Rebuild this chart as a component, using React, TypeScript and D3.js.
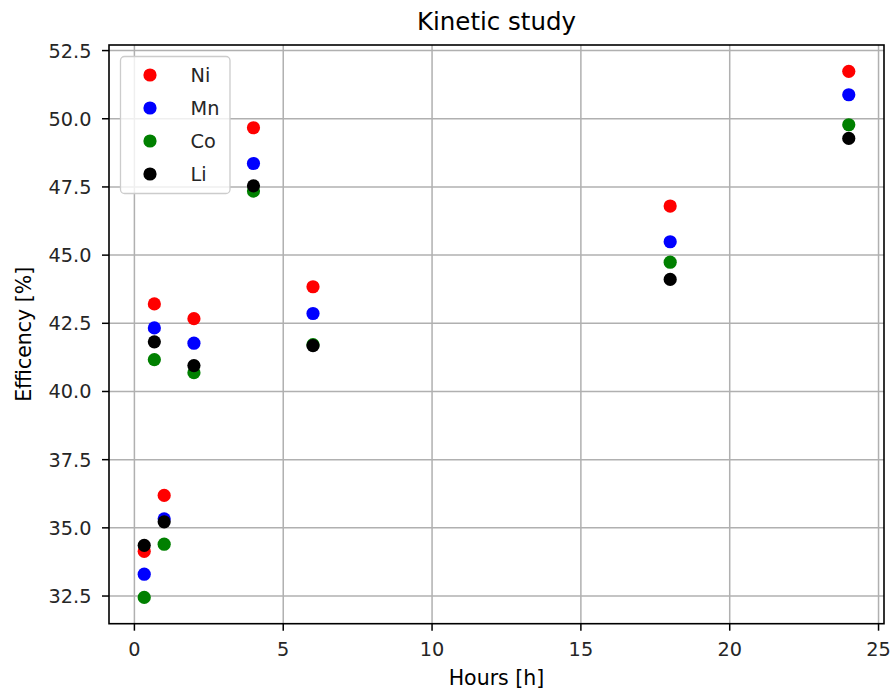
import React from "react";
import * as d3 from "d3";

const hours = [0.33, 0.67, 1, 2, 4, 6, 18, 24];
const ni = [34.14, 43.21, 36.19, 42.67, 49.67, 43.84, 46.8, 51.74];
const mn = [33.3, 42.33, 35.33, 41.77, 48.36, 42.86, 45.49, 50.88];
const co = [32.45, 41.17, 34.4, 40.69, 47.35, 41.72, 44.74, 49.78];
const li = [34.36, 41.82, 35.22, 40.95, 47.54, 41.68, 44.11, 49.28];
const seriesNames = ["Ni", "Mn", "Co", "Li"];
const seriesColors = ["#ff0000", "#0000ff", "#008000", "#000000"];
const xTicks = [0, 5, 10, 15, 20, 25];
const yTicks = [32.5, 35.0, 37.5, 40.0, 42.5, 45.0, 47.5, 50.0, 52.5];

const W = 893, H = 695;
const L = 109, R = 884, T = 45, B = 623.7;
const FONT = "DejaVu Sans, sans-serif";

export default function App() {
  const series = [ni, mn, co, li];
  const allY = series.flat();
  const xmin = d3.min(hours)!, xmax = d3.max(hours)!;
  const ymin = d3.min(allY)!, ymax = d3.max(allY)!;
  const xm = (xmax - xmin) * 0.05, ym = (ymax - ymin) * 0.05;
  const x = d3.scaleLinear().domain([xmin - xm, xmax + xm]).range([L, R]);
  const y = d3.scaleLinear().domain([ymin - ym, ymax + ym]).range([B, T]);
  const r = 6.6;
  return (
    <svg width={W} height={H} style={{ position: "absolute", left: 0, top: 0 }} fontFamily={FONT}>
      <rect width={W} height={H} fill="#fff" />
      {xTicks.map((t) => (
        <line key={"gx" + t} x1={x(t)} x2={x(t)} y1={T} y2={B} stroke="#b0b0b0" strokeWidth={1.5} />
      ))}
      {yTicks.map((t) => (
        <line key={"gy" + t} x1={L} x2={R} y1={y(t)} y2={y(t)} stroke="#b0b0b0" strokeWidth={1.5} />
      ))}
      {series.map((s, i) =>
        s.map((v, j) => (
          <circle key={i + "-" + j} cx={x(hours[j])} cy={y(v)} r={r} fill={seriesColors[i]} />
        ))
      )}
      <rect x={L} y={T} width={R - L} height={B - T} fill="none" stroke="#000" strokeWidth={1.6} />
      {xTicks.map((t) => (
        <g key={"tx" + t}>
          <line x1={x(t)} x2={x(t)} y1={B} y2={B + 7} stroke="#000" strokeWidth={1.5} />
          <text x={x(t)} y={656} textAnchor="middle" fontSize={19.3} fill="#262626">{t}</text>
        </g>
      ))}
      {yTicks.map((t) => (
        <g key={"ty" + t}>
          <line x1={L - 7} x2={L} y1={y(t)} y2={y(t)} stroke="#000" strokeWidth={1.5} />
          <text x={91.5} y={y(t)} dy="0.36em" textAnchor="end" fontSize={19.3} fill="#262626">{t.toFixed(1)}</text>
        </g>
      ))}
      <text x={(L + R) / 2} y={29.5} textAnchor="middle" fontSize={24.5} fill="#000">Kinetic study</text>
      <text x={(L + R) / 2} y={685} textAnchor="middle" fontSize={20.5} fill="#000">Hours [h]</text>
      <text transform={`translate(31,${(T + B) / 2}) rotate(-90)`} textAnchor="middle" fontSize={20.5} fill="#000">Efficency [%]</text>
      <g>
        <rect x={120.5} y={56.5} width={109.5} height={137} rx={4} fill="#fff" fillOpacity={0.8} stroke="#cccccc" strokeWidth={1.3} />
        {seriesNames.map((n, i) => (
          <g key={n}>
            <circle cx={150} cy={75 + i * 33} r={r} fill={seriesColors[i]} />
            <text x={190.5} y={75 + i * 33} dy="0.36em" fontSize={19.3} fill="#262626">{n}</text>
          </g>
        ))}
      </g>
    </svg>
  );
}
